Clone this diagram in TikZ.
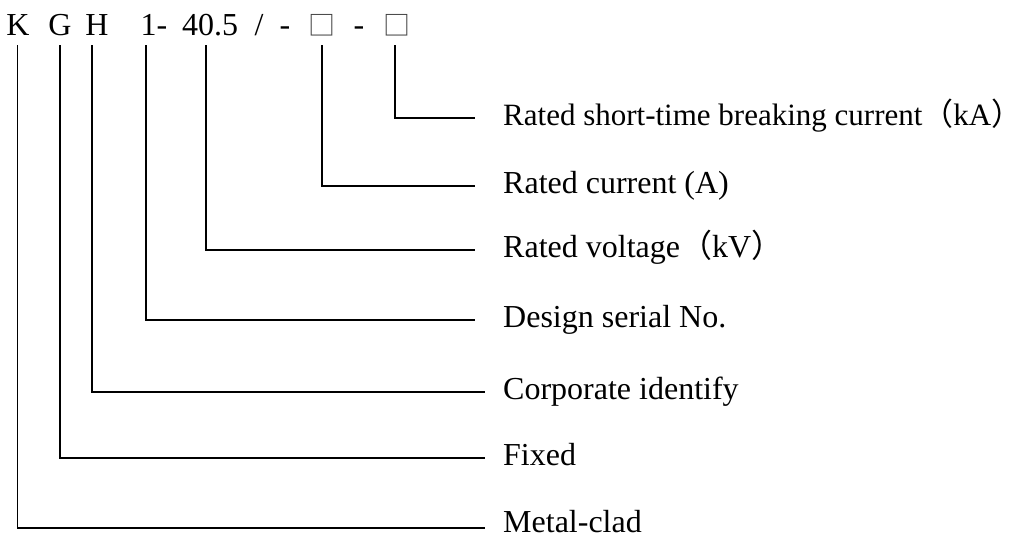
\documentclass[tikz,border=0pt]{standalone}
\usepackage{fontspec}
\setmainfont{Liberation Serif}
\newfontfamily\cjk{Noto Sans CJK SC}
\usepackage{tikz}
\usetikzlibrary{positioning,calc}

\tikzset{
  code/.style={anchor=base, inner xsep=0pt, inner ysep=10pt, text depth=0pt,
               font=\fontsize{32}{34}\selectfont},
  desc/.style={anchor=base west, inner sep=0pt, font=\fontsize{32}{34}\selectfont},
  lead/.style={black, line width=1.6pt},
}
\newcommand{\sqbox}{{\cjk\fontsize{27}{30}\selectfont\color{black!75}□}}
\newcommand{\fwl}{{\cjk （}}
\newcommand{\fwr}{{\cjk\makebox[0.5em][l]{）}}}

\begin{document}
\begin{tikzpicture}[x=1pt, y=-1pt]
\useasboundingbox (0,0) rectangle (1025,539);

% --- model code ---
\node[code] (k)    at (18,35)  {K};
\node[code] (g)    at (60,35)  {G};
\node[code] (h)    at (97,35)  {H};
\node[code] (ser)  at (154,35) {1-};
\node[code] (volt) at (210,35) {40.5};
\node[code] (sl)   at (259,35) {/};
\node[code] (d1)   at (285,35) {-};
\node[code] (cur)  at (322,35) {\sqbox};
\node[code] (d2)   at (359,35) {-};
\node[code] (brk)  at (397,35) {\sqbox};

% --- descriptions ---
\node[desc, font=\fontsize{31}{34}\selectfont] (brkd) at (503,125)
  {Rated short-time breaking current\fwl kA\fwr};
\node[desc] (curd)  at (503,193) {Rated current (A)};
\node[desc] (voltd) at (503,257) {Rated voltage\fwl kV\fwr};
\node[desc] (serd)  at (503,327) {Design serial No.};
\node[desc] (hd)    at (503,399) {Corporate identify};
\node[desc] (gd)    at (503,465) {Fixed};
\node[desc] (kd)    at (503,532) {Metal-clad};

% --- leaders ---
\draw[lead] ([xshift=-2pt]brk.south) |- ([xshift=-28pt,yshift=7pt]brkd.base west);
\draw[lead] (cur.south) |- ([xshift=-28pt,yshift=7pt]curd.base west);
\draw[lead] ([xshift=-4pt]volt.south) |- ([xshift=-28pt,yshift=7pt]voltd.base west);
\draw[lead] ([xshift=-8pt]ser.south) |- ([xshift=-28pt,yshift=7pt]serd.base west);
\draw[lead] ([xshift=-5pt]h.south) |- ([xshift=-18pt,yshift=7pt]hd.base west);
\draw[lead] (g.south) |- ([xshift=-18pt,yshift=7pt]gd.base west);
\draw[lead] ([xshift=-0.5pt]k.south) |- ([xshift=-18pt,yshift=4pt]kd.base west);

\end{tikzpicture}
\end{document}
